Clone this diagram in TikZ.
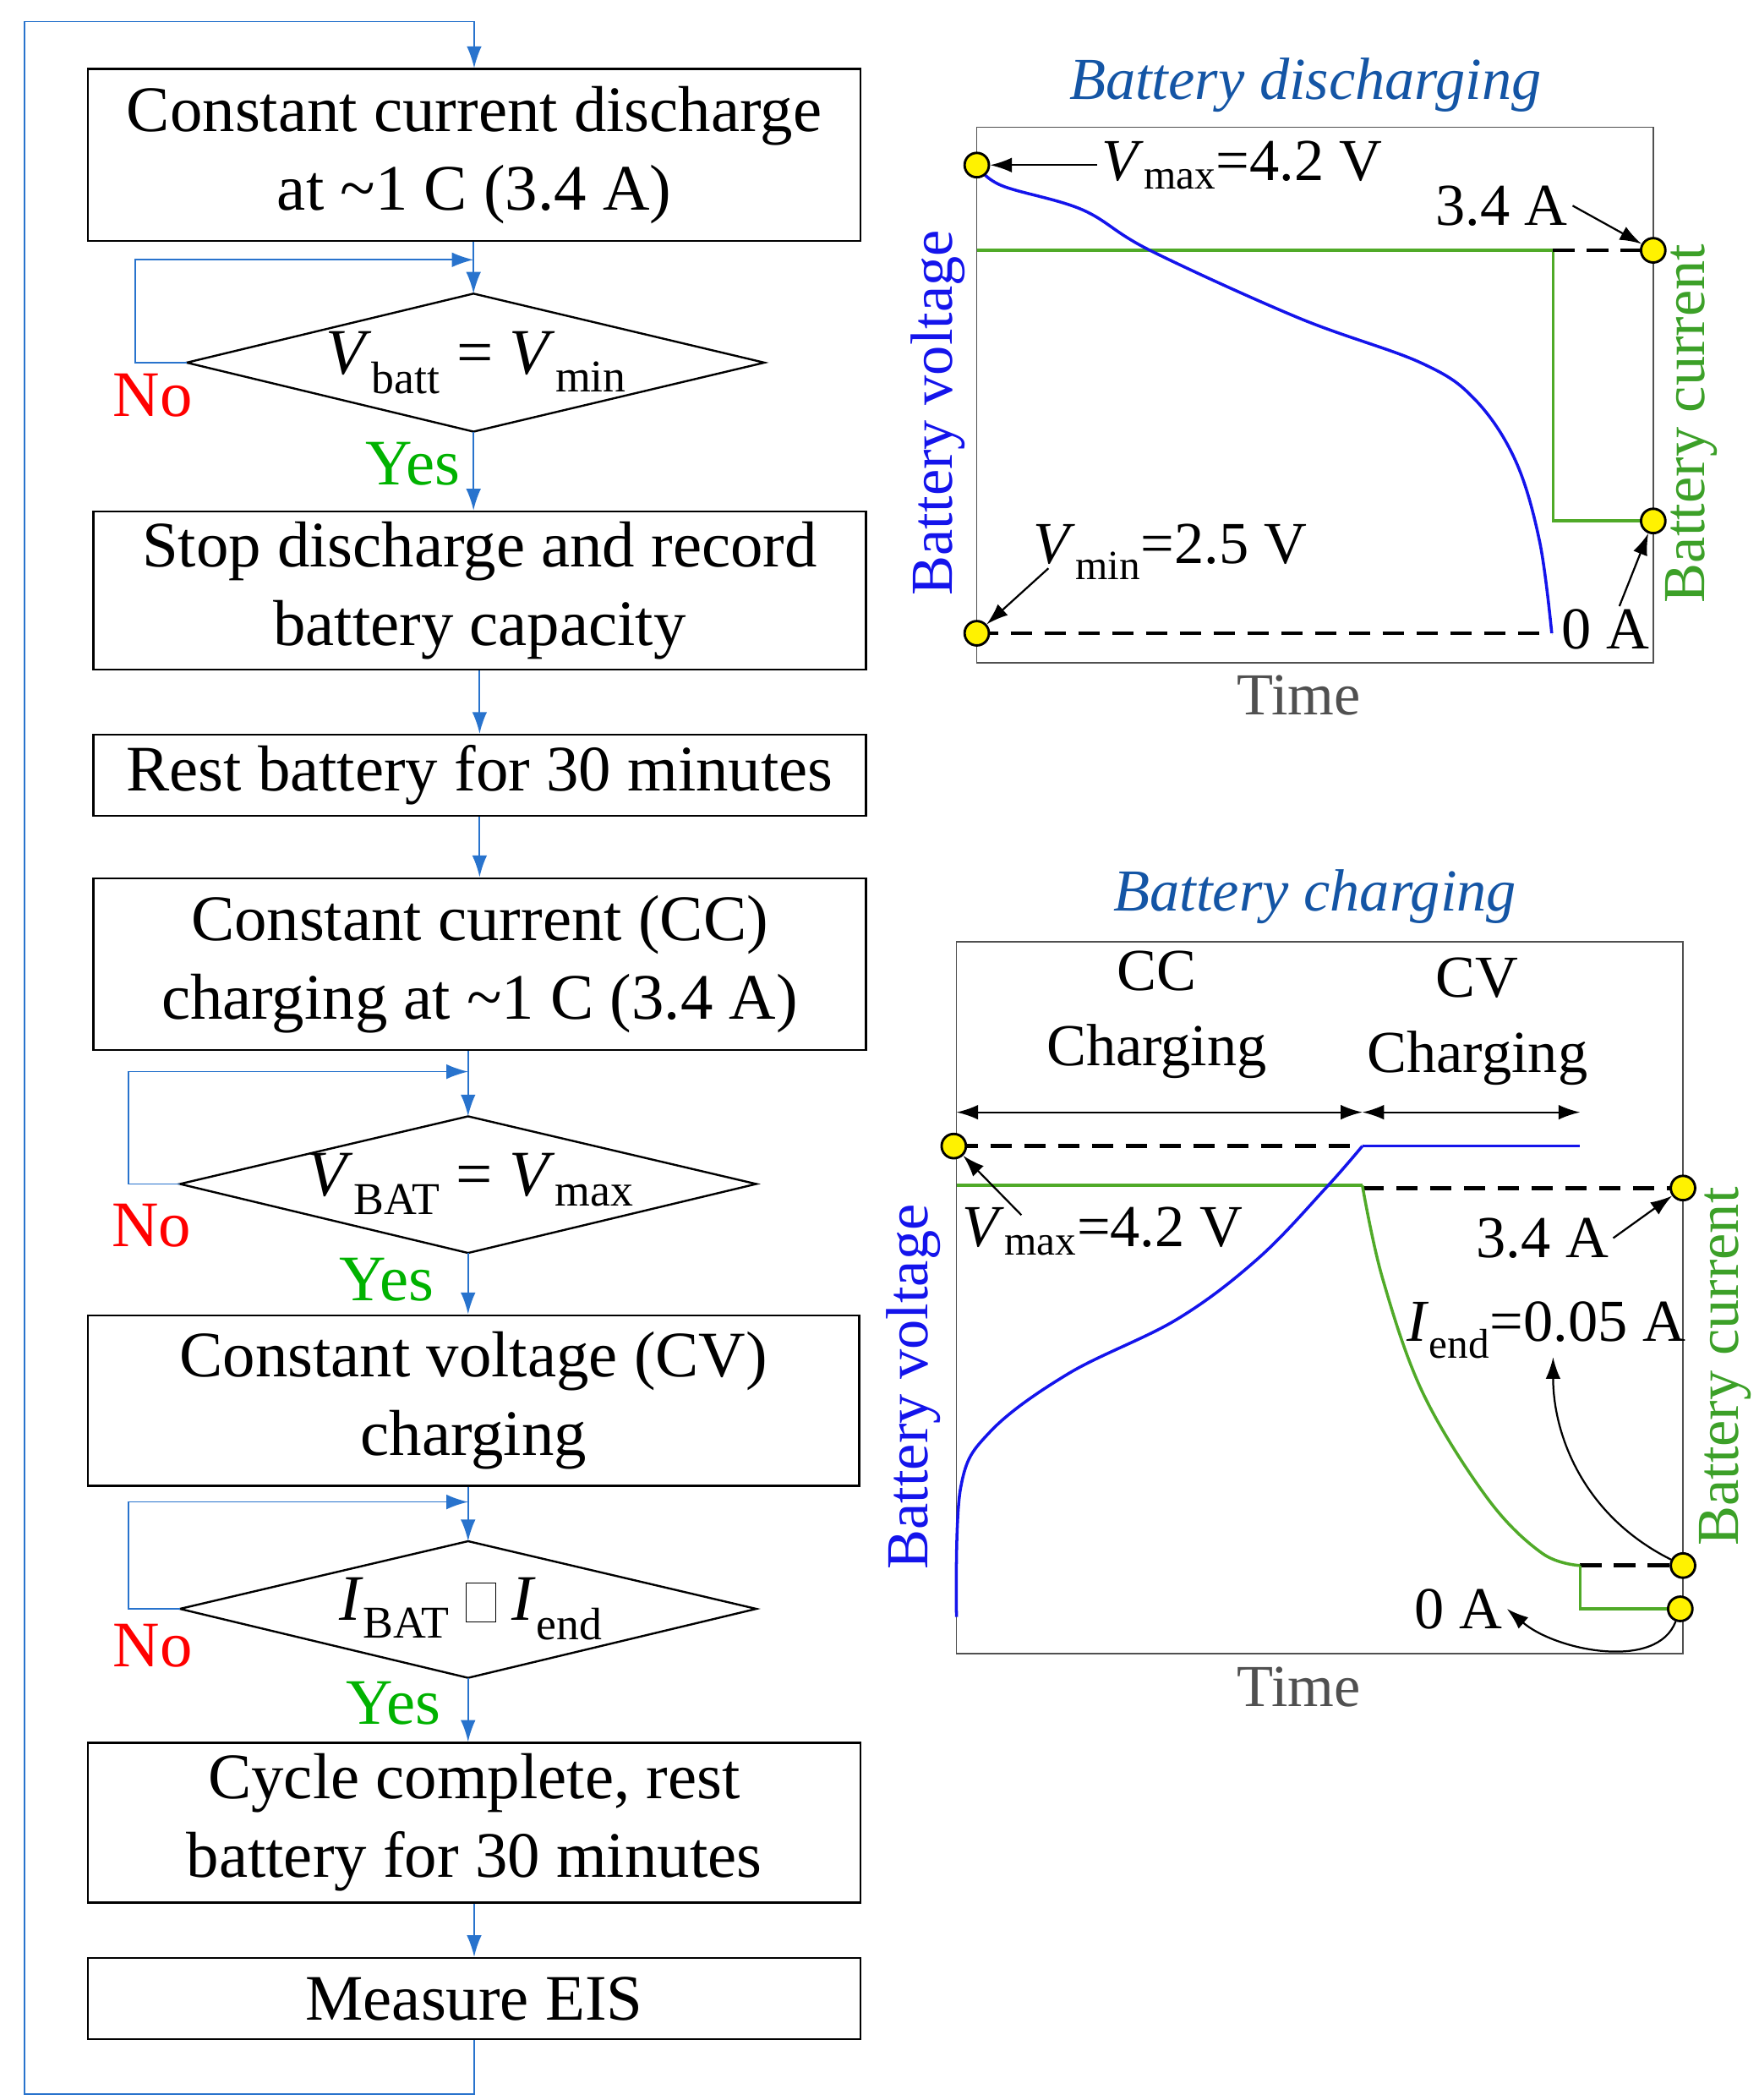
\documentclass[tikz,border=0pt]{standalone}
\usepackage{fontspec}
\setmainfont{Liberation Serif}
\usetikzlibrary{arrows.meta}
\definecolor{fb}{RGB}{40,115,205}
\definecolor{tb}{RGB}{20,85,165}
\definecolor{gr}{RGB}{60,160,40}
\definecolor{cg}{RGB}{80,170,40}
\definecolor{bl}{RGB}{20,20,235}
\definecolor{gy}{RGB}{80,80,80}
\newcommand{\bigf}{\fontsize{48}{58}\selectfont}
\newcommand{\medf}{\fontsize{44}{56}\selectfont}
\newcommand{\Vs}[1]{\textit{V}\textsubscript{#1}}
\newcommand{\Is}[1]{\textit{I}\textsubscript{#1}}
\begin{document}
\begin{tikzpicture}[x=1pt,y=-1pt,
 box/.style={draw,line width=1.5pt,align=center,font=\bigf,inner sep=0},
 flow/.style={fb,line width=1.3pt,-{Latex[length=16pt,width=11pt]}},
 loopl/.style={fb,line width=1pt,-{Latex[length=16pt,width=11pt]}},
 dia/.style={draw,line width=1.5pt},
 lab/.style={font=\bigf},
 dot/.style={circle,draw,line width=1.8pt,fill=yellow,minimum size=18pt,inner sep=0},
 ann/.style={line width=1.4pt,-{Latex[length=16pt,width=11pt]}},
 dsh/.style={line width=3pt,dash pattern=on 16pt off 9pt}]
\useasboundingbox (0,0) rectangle (1300,1552);
% boxes
\node[box,minimum width=571,minimum height=127] (b1) at (350.5,114.5) {Constant current discharge\\at \textasciitilde1 C (3.4 A)};
\node[box,minimum width=571,minimum height=117] (b2) at (354.5,436.5) {Stop discharge and record\\battery capacity};
\node[box,minimum width=571,minimum height=60] (b3) at (354.5,573) {Rest battery for 30 minutes};
\node[box,minimum width=571,minimum height=127] (b4) at (354.5,712.5) {Constant current (CC)\\charging at \textasciitilde1 C (3.4 A)};
\node[box,minimum width=570,minimum height=126] (b5) at (350,1035) {Constant voltage (CV)\\charging};
\node[box,minimum width=571,minimum height=118] (b6) at (350.5,1347) {Cycle complete, rest\\battery for 30 minutes};
\node[box,minimum width=571,minimum height=60] (b7) at (350.5,1477) {Measure EIS};
% diamonds
\draw[dia] (138,268) coordinate(d1l) -- (350,217) coordinate(d1t) -- (565,268) -- (350,319) coordinate(d1b) -- cycle;
\node[lab] (d1) at (352,268) {\Vs{batt} = \Vs{min}};
\draw[dia] (133,875) coordinate(d2l) -- (346,825) coordinate(d2t) -- (559,875) -- (346,926) coordinate(d2b) -- cycle;
\node[lab] (d2) at (348,875) {\Vs{BAT} = \Vs{max}};
\draw[dia] (133,1189) coordinate(d3l) -- (346,1139) coordinate(d3t) -- (559,1189) -- (346,1240) coordinate(d3b) -- cycle;
\node[lab] (d3) at (348,1189) {\Is{BAT} \raisebox{2pt}{\framebox[22pt]{\rule{0pt}{22pt}}} \Is{end}};
% labels
\node[lab,red] (n1) at (113,292) {No};
\node[lab,green!70!black] (y1) at (305,343) {Yes};
\node[lab,red] (n2) at (112,906) {No};
\node[lab,green!70!black] (y2) at (286,946) {Yes};
\node[lab,red] (n3) at (113,1216) {No};
\node[lab,green!70!black] (y3) at (291,1259) {Yes};
% flow arrows
\draw[flow] (b1.south -| d1t) -- (d1t);
\draw[flow] (d1b) -- (d1b |- b2.north);
\draw[flow] (b2.south -| b3.north) -- (b3.north);
\draw[flow] (b3) -- (b4);
\draw[flow] (b4.south -| d2t) -- (d2t);
\draw[flow] (d2b) -- (d2b |- b5.north);
\draw[flow] (b5.south -| d3t) -- (d3t);
\draw[flow] (d3b) -- (d3b |- b6.north);
\draw[flow] (b6) -- (b7);
\draw[flow,line width=1pt] (b7.south) -- ++(0,40) -| (18,16) -| (b1.north);
\draw[loopl] (d1l) -| (100,192) -- (350,192);
\draw[loopl] (d2l) -| (95,792) -- (346,792);
\draw[loopl] (d3l) -| (95,1110) -- (346,1110);
% ===== discharging chart
\draw[gy,line width=1pt] (722,94) rectangle (1222,490);
\node[font=\medf\itshape,tb] (t1) at (965,63) {Battery discharging};
\node[font=\medf,bl,rotate=90] (yv1) at (693,305) {Battery voltage};
\node[font=\medf,gr,rotate=90] (yc1) at (1250,313) {Battery current};
\node[font=\medf,gy] (tm1) at (960,514) {Time};
\draw[cg,line width=2.2pt] (722,185) -- (1148,185) -- (1148,385) -- (1222,385);
\draw[dsh] (1148,185) -- (1222,185);
\draw[dsh] (722,468) -- (1147,468);
\draw[bl,line width=2.2pt] plot[smooth,tension=0.6] coordinates {(722,122) (740,137) (800,155) (850,185) (960,235) (1050,268) (1090,295) (1120,340) (1138,400) (1147,468)};
\node[dot] (p1) at (722,122) {};
\node[dot] (p2) at (1222,185) {};
\node[dot] (p3) at (1222,385) {};
\node[dot] (p4) at (722,468) {};
\node[font=\medf] (l1) at (918,122) {\Vs{max}=4.2 V};
\node[font=\medf] (l2) at (1110,152) {3.4 A};
\node[font=\medf] (l3) at (865,408) {\Vs{min}=2.5 V};
\node[font=\medf] (l4) at (1187,465) {0 A};
\draw[ann] (l1.west) -- (p1);
\draw[ann] (l2.east) -- (p2);
\draw[ann] (775,420) -- (p4);
\draw[ann] (1197,448) -- (p3);
% ===== charging chart
\draw[gy,line width=1pt] (707,696) rectangle (1244,1222);
\node[font=\medf\itshape,tb] (t2) at (972,663) {Battery charging};
\node[font=\medf,align=center] (cc) at (855,750) {CC\\Charging};
\node[font=\medf,align=center] (cv) at (1092,755) {CV\\Charging};
\coordinate (a1) at (707,822); \coordinate (a2) at (1007,822); \coordinate (a3) at (1168,822);
\draw[ann,{Latex[length=16pt,width=11pt]}-{Latex[length=16pt,width=11pt]}] (a1) -- (a2);
\draw[ann,{Latex[length=16pt,width=11pt]}-{Latex[length=16pt,width=11pt]}] (a2) -- (a3);
\node[font=\medf,bl,rotate=90] (yv2) at (675,1025) {Battery voltage};
\node[font=\medf,gr,rotate=90] (yc2) at (1275,1010) {Battery current};
\node[font=\medf,gy] (tm2) at (960,1247) {Time};
\draw[dsh] (707,847) -- (1007,847);
\draw[bl,line width=2.2pt] (1007,847) -- (1168,847);
\draw[cg,line width=2.2pt] (707,876) -- (1007,876);
\draw[dsh] (1007,878) -- (1244,878);
\draw[dsh] (1168,1157) -- (1244,1157);
\draw[bl,line width=2.2pt] plot[smooth,tension=0.6] coordinates {(707,1195) (710,1100) (732,1058) (790,1015) (870,975) (930,930) (980,878) (1007,847)};
\draw[cg,line width=2.2pt] plot[smooth,tension=0.6] coordinates {(1007,876) (1022,945) (1052,1030) (1100,1108) (1140,1148) (1168,1157)};
\draw[cg,line width=2.2pt] (1168,1157) -- (1168,1189) -- (1244,1189);
\node[dot] (q1) at (705,847) {};
\node[dot] (q2) at (1244,878) {};
\node[dot] (q3) at (1244,1157) {};
\node[dot] (q4) at (1242,1189) {};
\node[font=\medf] (m1) at (815,910) {\Vs{max}=4.2 V};
\node[font=\medf] (m2) at (1140,915) {3.4 A};
\node[font=\medf] (m3) at (1143,983) {\Is{end}=0.05 A};
\node[font=\medf] (m4) at (1078,1189) {0 A};
\draw[ann] (755,898) -- (q1);
\draw[ann] (m2.east) -- (q2);
\draw[ann] (q3) .. controls (1170,1120) and (1148,1060) .. (1148,1003);
\draw[ann] (q4) .. controls (1225,1235) and (1150,1220) .. (m4.east);
\end{tikzpicture}
\end{document}
